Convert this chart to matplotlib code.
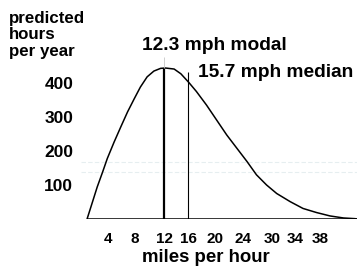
import matplotlib
matplotlib.use("Agg")
import matplotlib.pyplot as plt

plt.rcParams['font.family'] = ['Liberation Sans', 'DejaVu Sans']
plt.rcParams['font.weight'] = 'bold'

# curve (mph, predicted hours per year)
speeds = [0.9, 1.7, 2.4, 3.2, 3.9, 4.9, 5.9, 6.9, 7.9, 8.8, 9.8, 10.8,
          11.8, 12.5, 13.8, 14.8, 16.0, 17.1, 18.6, 20.1, 21.6, 23.1,
          24.6, 26.0, 27.5, 29.0, 31.0, 32.9, 34.9, 36.9, 38.9, 40.6, 40.9]
hours = [0, 50, 94, 138, 178, 226, 271, 315, 354, 388, 418, 435,
         443, 444, 441, 427, 401, 375, 335, 291, 247, 208,
         169, 130, 100, 75, 51, 31, 19, 9, 3, 1, 0]

modal_speed = 12.3
modal_hours = 444
median_speed = 15.9
median_top = 432

y_ticks = [100, 200, 300, 400]
x_tick_pos = [4.0, 8.0, 12.4, 15.9, 19.9, 24.0, 28.3, 31.7, 35.4]
x_tick_labels = ['4', '8', '12', '16', '20', '24', '30', '34', '38']

fig = plt.figure(figsize=(3.57, 2.69), dpi=100)
ax = fig.add_axes([81 / 357, 50 / 269, 276 / 357, 219 / 269])
ax.set_xlim(0, 40.9)
ax.set_ylim(0, 644)

# faint scan artefacts
for yy in (168, 138):
    ax.axhline(yy, color='#e6eef0', lw=0.8, ls=(0, (4, 2)), zorder=0)

ax.plot(speeds, hours, color='black', lw=1.1, solid_joinstyle='round')
ax.hlines(0, speeds[0], speeds[-1], color='black', lw=1.1)
ax.vlines(modal_speed, 0, modal_hours, color='black', lw=1.6)
ax.vlines(modal_speed, modal_hours, 475, color='#c8c8c8', lw=0.6)
ax.vlines(median_speed, 0, median_top, color='black', lw=0.8)

ax.text(9.0, 497, '12.3 mph modal', fontsize=13.8, fontweight='bold',
        va='baseline', ha='left')
ax.text(17.3, 418, '15.7 mph median', fontsize=13.8, fontweight='bold',
        va='baseline', ha='left')

fig.text(9 / 357, 1 - 11 / 269, 'predicted\nhours\nper year', fontsize=12.2,
         fontweight='bold', va='top', ha='left', linespacing=1.12)

for s in ax.spines.values():
    s.set_visible(False)

ax.set_yticks(y_ticks)
ax.set_yticklabels([str(v) for v in y_ticks], fontsize=12.5, fontweight='bold')
ax.set_xticks(x_tick_pos)
ax.set_xticklabels(x_tick_labels, fontsize=11, fontweight='bold')
ax.tick_params(axis='y', length=0, pad=5.5)
ax.tick_params(axis='x', length=0, pad=9.5)

ax.set_xlabel('miles per hour', fontsize=13.4, fontweight='bold', va='top')
ax.xaxis.set_label_coords((206 - 81) / 276, (219 - 249) / 219)

fig.savefig('out.png', dpi=100)
